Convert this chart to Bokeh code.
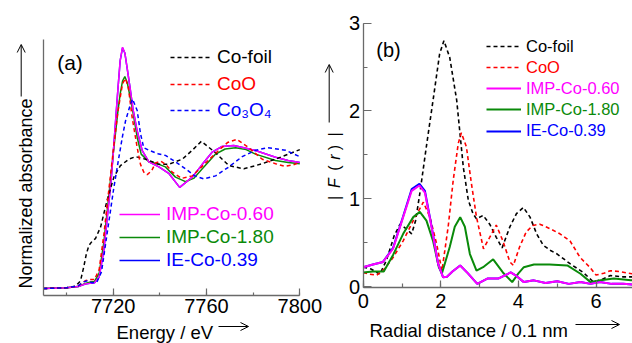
import numpy as np
from math import pi
from bokeh.plotting import figure
from bokeh.models import (Range1d, SingleIntervalTicker, FixedTicker, Label, Arrow,
                          OpenHead, Legend, LegendItem, LinearAxis)
from bokeh.embed import file_html
from bokeh.resources import INLINE

FONT = "Liberation Sans"

# ---------------- Panel (a): XANES, energy (eV) vs normalized absorbance ----------------
foil_e = [7690, 7700, 7704, 7706, 7707.4, 7708.5, 7709.6, 7711, 7712.4, 7714.6, 7717.4, 7720.3,
          7723.1, 7726.7, 7729.6, 7733.9, 7739.6, 7743.8, 7749.6, 7753.9, 7757.8, 7763.9, 7769.6,
          7776, 7783.9, 7792.4, 7800]
foil_a = [0.0, 0.005, 0.02, 0.06, 0.17, 0.27, 0.336, 0.37, 0.39, 0.48, 0.69, 0.87,
          0.96, 1.01, 1.03, 1.01, 0.97, 0.97, 1.01, 1.08, 1.15, 1.06, 0.96,
          0.935, 0.975, 1.03, 1.085]

coo_e = [7690, 7700, 7705, 7708, 7710, 7712, 7714, 7716, 7718, 7720, 7722, 7724, 7725.3, 7726.5,
         7728.1, 7730.3, 7731.7, 7733.1, 7734.6, 7736.5, 7738.1, 7740.3, 7742.5, 7745.3, 7749.3,
         7753.9, 7759.6, 7765.3, 7769, 7773, 7778.1, 7783.9, 7789.6, 7793.5, 7797, 7800]
coo_a = [0.0, 0.005, 0.02, 0.06, 0.07, 0.07, 0.15, 0.42, 0.75, 1.07, 1.38, 1.60, 1.64, 1.57,
         1.34, 1.10, 0.97, 0.91, 0.89, 0.92, 0.98, 0.995, 0.97, 0.91, 0.86,
         0.88, 0.98, 1.08, 1.14, 1.165, 1.10, 1.01, 0.975, 0.955, 0.965, 0.985]

co3o4_e = [7690, 7700, 7705, 7707, 7709, 7711, 7713, 7715, 7717.4, 7720.3, 7722.4, 7724, 7725.3,
           7727.4, 7728.3, 7730.3, 7731.7, 7733.1, 7735.3, 7739.6, 7742.4, 7746.7, 7751, 7755,
           7758.8, 7763.9, 7769.6, 7775.3, 7781, 7786.3, 7793.9, 7800]
co3o4_a = [0.0, 0.005, 0.02, 0.05, 0.06, 0.045, 0.05, 0.13, 0.43, 0.79, 1.02, 1.19, 1.31,
           1.44, 1.48, 1.39, 1.21, 1.10, 1.08, 1.05, 1.04, 0.99, 0.935, 0.88,
           0.857, 0.88, 0.95, 1.03, 1.08, 1.10, 1.08, 1.03]

imp060_e = [7690, 7700, 7705, 7708, 7710, 7712, 7714, 7716, 7718, 7719, 7720, 7721, 7722, 7723,
            7724, 7725, 7726, 7727.4, 7728.5, 7730.3, 7732.4, 7735.3, 7739.6, 7743.8, 7748.5,
            7753.9, 7758.2, 7762.4, 7766.7, 7771.7, 7776, 7781, 7789.6, 7795, 7800]
imp060_a = [0.0, 0.005, 0.015, 0.035, 0.04, 0.045, 0.09, 0.30, 0.65, 0.82, 1.05, 1.30, 1.55, 1.78,
            1.885, 1.84, 1.72, 1.547, 1.40, 1.23, 1.08, 0.99, 0.95, 0.90, 0.79,
            0.87, 0.97, 1.065, 1.11, 1.117, 1.10, 1.078, 1.026, 1.0, 0.985]

imp180_e = [7690, 7700, 7705, 7708, 7710, 7712, 7714, 7716, 7718, 7720, 7722, 7723, 7724, 7725,
            7726, 7727, 7728.1, 7730.3, 7732, 7735.3, 7739.6, 7742.4, 7746.7, 7751, 7754.5,
            7758.2, 7763.9, 7768, 7772.5, 7777, 7781, 7789.6, 7795, 7800]
imp180_a = [0.0, 0.005, 0.015, 0.04, 0.05, 0.055, 0.12, 0.36, 0.70, 1.05, 1.38, 1.52, 1.62, 1.656,
            1.61, 1.52, 1.417, 1.18, 1.05, 0.99, 0.97, 0.95, 0.87, 0.835, 0.86,
            0.935, 1.05, 1.09, 1.10, 1.085, 1.05, 1.0, 0.985, 0.975]

ie039_e = imp060_e
ie039_a = [0.0, 0.005, 0.015, 0.035, 0.04, 0.045, 0.09, 0.30, 0.65, 0.82, 1.05, 1.30, 1.55, 1.78,
           1.88, 1.84, 1.72, 1.547, 1.40, 1.23, 1.08, 0.99, 0.95, 0.90, 0.79,
           0.87, 0.97, 1.065, 1.11, 1.117, 1.10, 1.078, 1.026, 1.0, 0.985]

# ---------------- Panel (b): |F(r)| vs radial distance (0.1 nm) ----------------
foil_r = [0, 0.2, 0.43, 0.6, 0.8, 0.95, 1.1, 1.25, 1.35, 1.46, 1.63, 1.8, 1.97, 2.08, 2.23, 2.41,
          2.58, 2.71, 2.83, 2.92, 3.09, 3.26, 3.43, 3.58, 3.78, 3.95, 4.13, 4.3, 4.47, 4.64,
          4.83, 5.0, 5.33, 5.67, 5.94, 6.15, 6.37, 6.7, 7.0]
foil_f = [0.22, 0.20, 0.14, 0.30, 0.58, 0.71, 0.66, 0.60, 0.75, 1.06, 1.60, 2.12, 2.65, 2.80, 2.61, 2.12,
          1.36, 0.98, 0.83, 0.77, 0.81, 0.71, 0.56, 0.44, 0.68, 0.83, 0.90, 0.79, 0.60, 0.47,
          0.41, 0.37, 0.26, 0.16, 0.05, 0.08, 0.125, 0.11, 0.11]

coo_r = [0, 0.15, 0.35, 0.55, 0.77, 1.03, 1.29, 1.55, 1.72, 1.89, 2.03, 2.19, 2.32, 2.45, 2.53,
         2.66, 2.79, 2.92, 3.1, 3.26, 3.43, 3.6, 3.78, 3.87, 4.03, 4.2, 4.37, 4.55, 4.81, 5.07,
         5.33, 5.59, 5.84, 6.0, 6.2, 6.37, 6.6, 7.0]
coo_f = [0.16, 0.14, 0.13, 0.20, 0.33, 0.52, 0.75, 0.96, 0.79, 0.49, 0.18, 0.68, 1.21, 1.63, 1.75,
         1.59, 1.17, 0.79, 0.43, 0.56, 0.70, 0.52, 0.28, 0.24, 0.45, 0.62, 0.695, 0.71, 0.66, 0.60,
         0.52, 0.33, 0.22, 0.13, 0.15, 0.18, 0.17, 0.14]

i180_r = [0, 0.25, 0.53, 0.77, 1.03, 1.29, 1.46, 1.63, 1.8, 1.95, 2.03, 2.23, 2.36, 2.5, 2.62,
          2.75, 2.92, 3.09, 3.35, 3.6, 3.84, 4.0, 4.14, 4.4, 4.8, 5.26, 5.6, 5.86, 6.12, 6.46, 6.9, 7.0]
i180_f = [0.16, 0.17, 0.17, 0.36, 0.60, 0.79, 0.85, 0.75, 0.52, 0.22, 0.15, 0.45, 0.68, 0.79, 0.68,
          0.37, 0.18, 0.22, 0.31, 0.16, 0.05, 0.15, 0.22, 0.25, 0.25, 0.24, 0.145, 0.05, 0.07, 0.09, 0.07, 0.07]

i060_r = [0, 0.25, 0.51, 0.77, 1.03, 1.25, 1.45, 1.59, 1.76, 1.93, 2.06, 2.16, 2.3, 2.5, 2.7, 2.94,
          3.2, 3.48, 3.8, 3.95, 4.14, 4.4, 4.7, 5.0, 5.3, 5.6, 5.86, 6.1, 6.4, 6.7, 7.0]
i060_f = [0.22, 0.25, 0.28, 0.43, 0.79, 1.09, 1.15, 1.07, 0.68, 0.26, 0.105, 0.11, 0.17, 0.24, 0.15, 0.03,
          0.09, 0.09, 0.16, 0.12, 0.05, 0.07, 0.04, 0.06, 0.03, 0.05, 0.03, 0.05, 0.03, 0.03, 0.02]

ie_r = i060_r
ie_f = [0.22, 0.25, 0.28, 0.44, 0.80, 1.11, 1.17, 1.09, 0.69, 0.26, 0.105, 0.11, 0.17, 0.24, 0.15, 0.03,
        0.09, 0.09, 0.16, 0.12, 0.05, 0.07, 0.04, 0.06, 0.03, 0.05, 0.03, 0.05, 0.03, 0.03, 0.02]

# legend texts
labels_a_ref = ["Co-foil", "CoO", "Co\u2083O\u2084"]
labels_a_smp = ["IMP-Co-0.60", "IMP-Co-1.80", "IE-Co-0.39"]
labels_b = ["Co-foil", "CoO", "IMP-Co-0.60", "IMP-Co-1.80", "IE-Co-0.39"]

BLACK, RED, BLUE, MAG, GREEN = "black", "#ff0000", "#0000ff", "#ff00ff", "#0a8a0a"
AXC = "#6a6a6a"

# ---------------- geometry (one canvas, frame = whole canvas) ----------------
W, H = 632, 343
# panel a: pixel anchors
KA = 256.6 / 110.0            # px per eV
PXA0 = 42.7                   # px of 7690 eV
PYA0, KYA = 288.0, 128.0      # px of A=0, px per unit
XA = (7690 - PXA0 / KA, 7690 + (W - PXA0) / KA)
YA = ((PYA0 - H) / KYA, PYA0 / KYA)
# panel b
KB = 38.8
PXB0 = 362.7
PYB0, KYB = 286.0, 87.8
XB = (-PXB0 / KB, (W - PXB0) / KB)
YB = ((PYB0 - H) / KYB, PYB0 / KYB)


def ya(py):
    return (PYA0 - py) / KYA


def yb(py):
    return (PYB0 - py) / KYB


# screen px -> panel (a) data coords, used for annotations
def sx(px):
    return XA[0] + px / KA


def sy(py):
    return YA[1] - py / KYA


p = figure(width=W, height=H, output_backend="svg", toolbar_location=None,
           x_range=Range1d(*XA), y_range=Range1d(*YA),
           min_border_left=0, min_border_right=0, min_border_top=0, min_border_bottom=0)
p.title.visible = False
p.outline_line_color = None
p.xgrid.visible = False
p.ygrid.visible = False
p.extra_x_ranges = {"b": Range1d(*XB)}
p.extra_y_ranges = {"b": Range1d(*YB)}


def style_axis(ax):
    ax.axis_line_color = AXC
    ax.axis_line_width = 1.3
    ax.major_tick_line_color = AXC
    ax.minor_tick_line_color = AXC
    ax.major_tick_line_width = 1.2
    ax.minor_tick_line_width = 1.2
    ax.major_tick_out = 0
    ax.minor_tick_out = 0
    ax.major_label_text_font = FONT
    ax.major_label_text_font_size = "20px"
    ax.major_label_text_color = "black"


# panel (a) axes
xa_ax = p.xaxis[0]
ya_ax = p.yaxis[0]
for ax in (xa_ax, ya_ax):
    style_axis(ax)
xa_ax.ticker = SingleIntervalTicker(interval=40, num_minor_ticks=2)
xa_ax.fixed_location = ya(295)
xa_ax.bounds = (7690, 7800)
xa_ax.major_tick_in = 7
xa_ax.minor_tick_in = 3
xa_ax.major_label_standoff = 3
ya_ax.ticker = FixedTicker(ticks=[])
ya_ax.major_label_text_font_size = "0px"
ya_ax.fixed_location = 7690
ya_ax.bounds = (ya(295), ya(39))

# panel (b) axes
xb_ax = LinearAxis(x_range_name="b", y_range_name="b")
yb_ax = LinearAxis(x_range_name="b", y_range_name="b")
for ax in (xb_ax, yb_ax):
    style_axis(ax)
xb_ax.ticker = SingleIntervalTicker(interval=2, num_minor_ticks=2)
xb_ax.fixed_location = yb(287)
xb_ax.bounds = (0, 7)
xb_ax.major_tick_in = 7
xb_ax.minor_tick_in = 4
xb_ax.major_label_standoff = 6
yb_ax.ticker = SingleIntervalTicker(interval=1, num_minor_ticks=2)
yb_ax.fixed_location = 0
yb_ax.bounds = (yb(287), 3.0)
yb_ax.major_tick_in = 8
yb_ax.minor_tick_in = 4
yb_ax.major_label_standoff = 3
p.add_layout(xb_ax, "below")
p.add_layout(yb_ax, "left")


def add_label(text, px, py, size, color="black", align="left", baseline="middle",
              angle=0, style="normal"):
    p.add_layout(Label(x=sx(px), y=sy(py), text=text, text_font=FONT, text_font_size=size,
                       text_color=color, text_align=align, text_baseline=baseline,
                       angle=angle, text_font_style=style))


def add_arrow(px0, py0, px1, py1):
    p.add_layout(Arrow(end=OpenHead(size=8, line_width=1, line_color="black"),
                       x_start=sx(px0), y_start=sy(py0), x_end=sx(px1), y_end=sy(py1),
                       line_width=1, line_color="black"))


def add_leg(rend, text, color, x_px, yc_px, size, gw, standoff):
    item_h = 20
    loc = (x_px, H - yc_px - item_h / 2)
    leg = Legend(items=[LegendItem(label=text, renderers=[rend])], location=loc,
                 label_text_font=FONT, label_text_font_size=size, label_text_color=color,
                 background_fill_alpha=0, border_line_alpha=0, padding=0, margin=0,
                 spacing=0, glyph_width=gw, glyph_height=item_h, label_height=item_h,
                 label_standoff=standoff)
    p.add_layout(leg)


DASH = "4 3"
# ================= Panel (a) curves =================
r_ie_a = p.line(ie039_e, ie039_a, line_color=BLUE, line_width=1.5)
r_180_a = p.line(imp180_e, imp180_a, line_color=GREEN, line_width=1.5)
r_060_a = p.line(imp060_e, imp060_a, line_color=MAG, line_width=1.5)
r_foil_a = p.line(foil_e, foil_a, line_color=BLACK, line_width=1.5, line_dash=DASH)
r_coo_a = p.line(coo_e, coo_a, line_color=RED, line_width=1.5, line_dash=DASH)
r_co3_a = p.line(co3o4_e, co3o4_a, line_color=BLUE, line_width=1.5, line_dash=DASH)

# ================= Panel (b) curves =================
kb = dict(x_range_name="b", y_range_name="b")
r_foil_b = p.line(foil_r, foil_f, line_color=BLACK, line_width=1.6, line_dash=DASH, **kb)
r_coo_b = p.line(coo_r, coo_f, line_color=RED, line_width=1.6, line_dash=DASH, **kb)
r_180_b = p.line(i180_r, i180_f, line_color=GREEN, line_width=2, **kb)
r_ie_b = p.line(ie_r, ie_f, line_color=BLUE, line_width=2, **kb)
r_060_b = p.line(i060_r, i060_f, line_color=MAG, line_width=2, **kb)

# legends
for rend, txt, col, yc in zip([r_foil_a, r_coo_a, r_co3_a], labels_a_ref,
                              [BLACK, RED, BLUE], [58, 84.5, 110.5]):
    add_leg(rend, txt, col, 170, yc, "19px", 42, 5)
for rend, txt, col, yc in zip([r_060_a, r_180_a, r_ie_a], labels_a_smp,
                              [MAG, GREEN, BLUE], [215, 238, 261]):
    add_leg(rend, txt, col, 119, yc, "19px", 41, 6)
for rend, txt, col, yc in zip([r_foil_b, r_coo_b, r_060_b, r_180_b, r_ie_b], labels_b,
                              [BLACK, RED, MAG, GREEN, BLUE], [46, 67, 88, 109, 130.5]):
    add_leg(rend, txt, col, 486, yc, "16.5px", 35, 5)

# panel letters and axis titles
add_label("(a)", 69.5, 62, "21px", align="center", baseline="middle")
add_label("(b)", 388, 49, "20px", align="center", baseline="middle")

add_label("Normalized absorbance", 25, 288, "18px", align="left", baseline="alphabetic",
          angle=pi / 2)
add_arrow(20.7, 96, 20.7, 44)
add_label("Energy / eV", 116, 332, "18.5px", align="left", baseline="alphabetic")
add_arrow(218, 326, 248, 326)

add_label("Radial distance / 0.1 nm", 369, 330, "18.5px", align="left", baseline="alphabetic")
add_arrow(575, 324, 619, 324)

for txt, yc, st in [("|", 197.5, "normal"), ("F", 182.5, "italic"), ("(", 167.5, "normal"),
                    ("r", 156.5, "italic"), (")", 147, "normal"), ("|", 134, "normal")]:
    add_label(txt, 334, yc, "16px", align="center", baseline="alphabetic",
              angle=pi / 2, style=st)
add_arrow(328.7, 122, 328.7, 64)

open("out.html", "w").write(file_html(p, INLINE))
